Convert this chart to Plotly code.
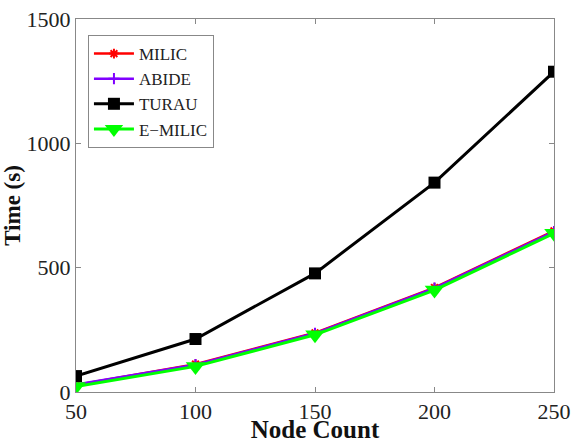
import plotly.graph_objects as go

nodes = [50, 100, 150, 200, 250]
milic = [28, 112, 238, 420, 648]
abide = [30, 110, 236, 418, 645]
turau = [64, 213, 477, 842, 1288]
emilic = [22, 103, 230, 410, 638]

xticks = [50, 100, 150, 200, 250]
yticks = [0, 500, 1000, 1500]

fig = go.Figure()
fig.add_trace(go.Scatter(x=nodes, y=milic, name="MILIC", mode="lines+markers",
                         line=dict(color="#ff0000", width=2.5),
                         marker=dict(symbol="asterisk-open", size=8, line=dict(color="#ff0000", width=2))))
fig.add_trace(go.Scatter(x=nodes, y=abide, name="ABIDE", mode="lines+markers",
                         line=dict(color="#8000ff", width=2.5),
                         marker=dict(symbol="cross-thin-open", size=8, line=dict(color="#8000ff", width=2))))
fig.add_trace(go.Scatter(x=nodes, y=turau, name="TURAU", mode="lines+markers",
                         line=dict(color="#000000", width=3),
                         marker=dict(symbol="square", size=12, color="#000000")))
fig.add_trace(go.Scatter(x=nodes, y=emilic, name="E\u2212MILIC", mode="lines+markers",
                         line=dict(color="#00ff00", width=3),
                         marker=dict(symbol="triangle-down", size=17, color="#00ff00")))

axis_common = dict(showline=True, linecolor="#888888", linewidth=1, mirror="ticks",
                   ticks="inside", ticklen=5, tickcolor="#888888", showgrid=False, zeroline=False,
                   automargin=False,
                   tickfont=dict(family="Liberation Serif", size=22, color="#222222"))

fig.update_layout(
    width=571, height=443,
    margin=dict(l=76, r=17, t=19, b=51),
    paper_bgcolor="white", plot_bgcolor="white",
    xaxis=dict(range=[50, 250], tickvals=xticks, ticktext=[str(v) for v in xticks],
               title=dict(text="<b>Node Count</b>", standoff=0,
                          font=dict(family="Liberation Serif", size=25, color="#111111")),
               **axis_common),
    yaxis=dict(range=[0, 1500], tickvals=yticks, ticktext=[str(v) for v in yticks],
               title=dict(text="<b>Time (s)</b>", standoff=4,
                          font=dict(family="Liberation Serif", size=23, color="#111111")),
               **axis_common),
    legend=dict(x=0.025, y=0.957, xanchor="left", yanchor="top",
                bgcolor="white", bordercolor="#888888", borderwidth=1,
                font=dict(family="Liberation Serif", size=17, color="#222222"),
                tracegroupgap=0, itemwidth=40),
    showlegend=True,
)

fig.write_html("out.html")
